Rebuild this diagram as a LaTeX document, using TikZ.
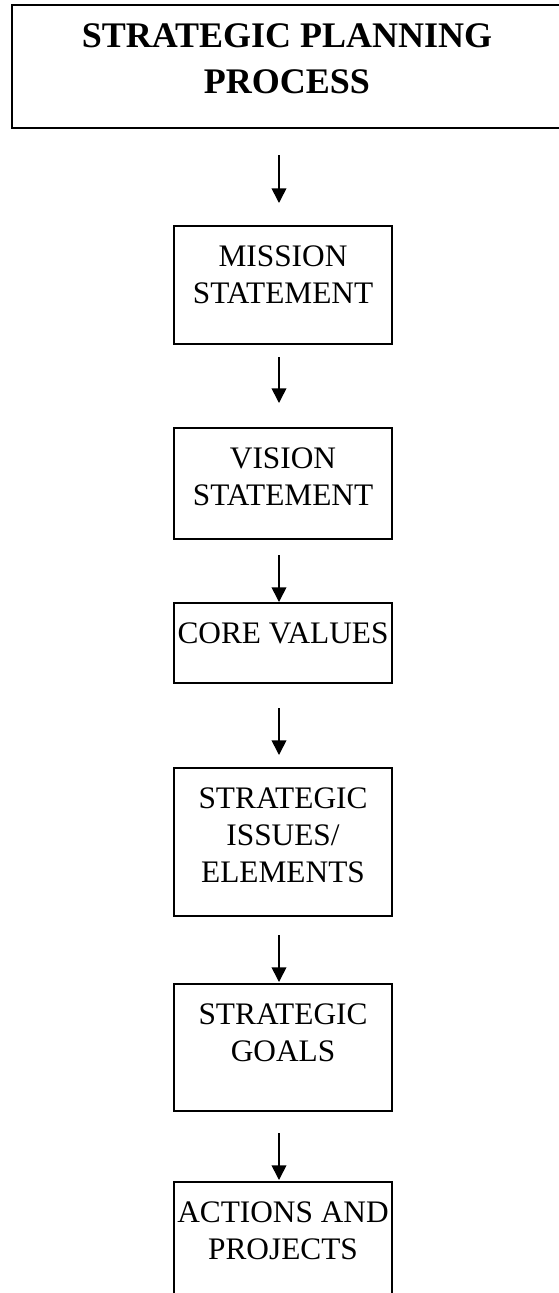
\documentclass[tikz,border=0pt]{standalone}
\usepackage{fontspec}
\setmainfont{Liberation Serif}
\usetikzlibrary{positioning,arrows.meta}

\begin{document}
\begin{tikzpicture}[
  x=0.75pt, y=-0.75pt,
  stage/.style   = {rectangle, draw, line width=1.5pt, outer sep=0pt, inner xsep=2pt, inner ysep=0pt, minimum width=163.5pt, align=center, font=\fontsize{23.5}{28}\selectfont},
  heading/.style = {stage, minimum width=412.5pt, font=\bfseries\fontsize{27}{34.5}\selectfont},
  flow/.style    = {line width=1.2pt, -{Triangle[width=11pt,length=11pt]}},
  ]
  \useasboundingbox (0,0) rectangle (558,1293);
  % planning steps (text height counts down to the last line)
  \node[heading, text height=66pt, text depth=26.25pt, anchor=north] (plan) at (287,5) {STRATEGIC PLANNING\\PROCESS};
  \node[stage, text height=58pt, text depth=30.5pt, below=73.5pt of plan, xshift=-3pt] (mission) {MISSION\\STATEMENT};
  \node[stage, text height=58pt, text depth=25.25pt, below=63pt of mission] (vision) {VISION\\STATEMENT};
  \node[stage, text height=30pt, text depth=30pt, below=48pt of vision] (values) {CORE VALUES};
  \node[stage, text height=86pt, text depth=25pt, below=63.75pt of values] (issues) {STRATEGIC\\ISSUES/\\ELEMENTS};
  \node[stage, text height=58pt, text depth=37.25pt, below=51pt of issues] (goals) {STRATEGIC\\GOALS};
  \node[stage, text height=58pt, text depth=35pt, below=53.25pt of goals] (actions) {ACTIONS AND\\PROJECTS};
  % arrows between the steps
  \draw[flow] ([xshift=-6pt, yshift=-20.25pt]plan.south) -- ([xshift=-3pt, yshift=17.25pt]mission.north);
  \draw[flow] ([xshift=-3pt, yshift=-9.75pt]mission.south) -- ([xshift=-3pt, yshift=18.75pt]vision.north);
  \draw[flow] ([xshift=-3pt, yshift=-12pt]vision.south) -- ([xshift=-3pt, yshift=0.75pt]values.north);
  \draw[flow] ([xshift=-3pt, yshift=-18.75pt]values.south) -- ([xshift=-3pt, yshift=9.75pt]issues.north);
  \draw[flow] ([xshift=-3pt, yshift=-14.25pt]issues.south) -- ([xshift=-3pt, yshift=1.5pt]goals.north);
  \draw[flow] ([xshift=-3pt, yshift=-16.5pt]goals.south) -- ([xshift=-3pt, yshift=1.5pt]actions.north);
\end{tikzpicture}
\end{document}
